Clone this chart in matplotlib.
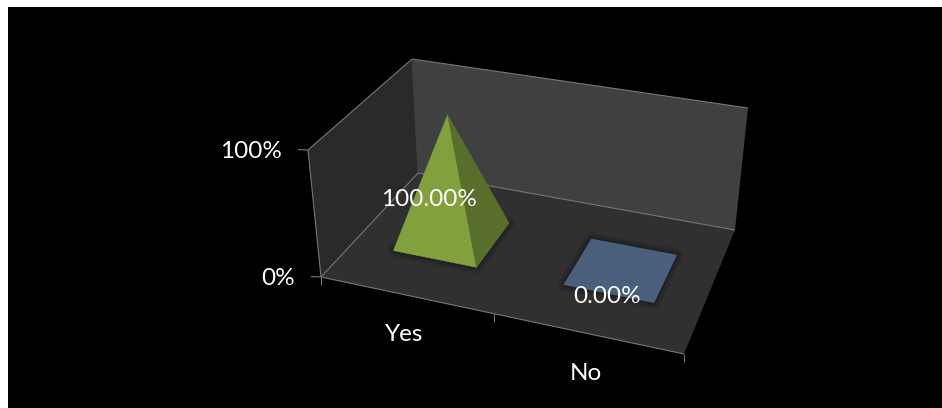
import matplotlib
matplotlib.use("Agg")
import matplotlib.pyplot as plt
import numpy as np
from matplotlib.patches import Polygon

categories = ["Yes", "No"]
values = [1.0, 0.0]
value_labels = ["100.00%", "0.00%"]
value_ticks = [0.0, 1.0]
value_tick_labels = ["0%", "100%"]
colors_front = ["#83A03F", "#4A5F7C"]
colors_side = ["#5A6E2C", "#3A4C64"]

# Box corners in pixels: front/back, bottom
FBL, FBR, BBR, BBL = map(np.array, [(321., 277.), (684., 354.), (735., 230.), (418., 173.)])
UP_FL, UP_FR, UP_BR, UP_BL = map(np.array, [(-13., -127.), (6., -130.), (13., -122.), (-6., -114.)])
BAR_HALF_W, BAR_HALF_D = 0.125, 0.2
FONT_SIZE = 17.5

def solve_floor():
    dx1, dx2, sx = FBR[0]-BBR[0], BBL[0]-BBR[0], FBL[0]-FBR[0]+BBR[0]-BBL[0]
    dy1, dy2, sy = FBR[1]-BBR[1], BBL[1]-BBR[1], FBL[1]-FBR[1]+BBR[1]-BBL[1]
    den = dx1*dy2 - dx2*dy1
    g = (sx*dy2 - dx2*sy)/den
    h = (dx1*sy - sx*dy1)/den
    return np.array([[FBR[0]-FBL[0]+g*FBR[0], BBL[0]-FBL[0]+h*BBL[0], FBL[0]],
                     [FBR[1]-FBL[1]+g*FBR[1], BBL[1]-FBL[1]+h*BBL[1], FBL[1]],
                     [g, h, 1.0]])
H = solve_floor()

def proj(u, v, z=0.0):
    p = H @ np.array([u, v, 1.0])
    base = p[:2]/p[2]
    up = (UP_FL*(1-u)*(1-v) + UP_FR*u*(1-v) + UP_BR*u*v + UP_BL*(1-u)*v)
    return base + z*up

W, HH = 942, 408
plt.rcParams["font.family"] = ["Lato", "DejaVu Sans"]
fig = plt.figure(figsize=(W/100, HH/100), dpi=100, facecolor="white")
ax = fig.add_axes([8/W, 0, (W-8)/W, (HH-7)/HH])
ax.set_xlim(8, W); ax.set_ylim(HH, 7)
ax.set_facecolor("black")
ax.set_xticks([]); ax.set_yticks([])
for s in ax.spines.values():
    s.set_visible(False)

# walls and floor
ax.add_patch(Polygon([proj(0,0,0), proj(0,1,0), proj(0,1,1), proj(0,0,1)], fc="#2A2A2A", ec="none", zorder=1))
ax.add_patch(Polygon([proj(0,1,0), proj(1,1,0), proj(1,1,1), proj(0,1,1)], fc="#404040", ec="none", zorder=1))
ax.add_patch(Polygon([proj(0,0,0), proj(1,0,0), proj(1,1,0), proj(0,1,0)], fc="#303030", ec="none", zorder=2))

LINE = "#777777"
def seg(a, b, lw=0.8, c=LINE, z=3):
    ax.plot([a[0], b[0]], [a[1], b[1]], color=c, lw=lw, solid_capstyle="butt", zorder=z)

seg(proj(0,0,1), proj(0,1,1))
seg(proj(0,1,1), proj(1,1,1))
seg(proj(0,0,0), proj(0,0,1))
seg(proj(0,0,0), proj(1,0,0))
seg(proj(0,0,0), proj(0,1,0))
seg(proj(0,1,0), proj(1,1,0))
seg(proj(0,1,0), proj(0,1,1), lw=0.5, c="#484848")

# ticks and axis labels
n = len(categories)
for t, lab in zip(value_ticks, value_tick_labels):
    p = proj(0, 0, t)
    seg(p, p + np.array([-10, -0.5]))
    ax.text(p[0]-26, p[1]+1, lab, color="white", fontsize=FONT_SIZE, ha="right", va="center", zorder=8)
for i in range(n + 1):
    p = proj(i/n, 0, 0)
    seg(p, p + np.array([0, 8]))
for i, c in enumerate(categories):
    p = proj((i+0.5)/n, 0, 0)
    ax.text(p[0]-1, p[1]+40, c, color="white", fontsize=FONT_SIZE, ha="center", va="center", zorder=8)

# pyramids
for i, val in enumerate(values):
    uc = (i+0.5)/n
    fl = proj(uc-BAR_HALF_W, 0.5-BAR_HALF_D)
    fr = proj(uc+BAR_HALF_W, 0.5-BAR_HALF_D)
    br = proj(uc+BAR_HALF_W, 0.5+BAR_HALF_D)
    bl = proj(uc-BAR_HALF_W, 0.5+BAR_HALF_D)
    for lw, a in [(9, 0.10), (6, 0.16), (3, 0.25)]:
        ax.add_patch(Polygon([fl, fr, br, bl], fc="#111111", ec="#111111", alpha=a, lw=lw, joinstyle="round", zorder=4))
    if val > 0:
        apex = proj(uc, 0.5, val)
        ax.add_patch(Polygon([fl, fr, apex], fc=colors_front[i], ec=colors_front[i], lw=0.4, zorder=5))
        ax.add_patch(Polygon([fr, br, apex], fc=colors_side[i], ec=colors_side[i], lw=0.4, zorder=5))
    else:
        ax.add_patch(Polygon([fl, fr, br, bl], fc=colors_front[i], ec="none", zorder=5))
    c = proj(uc, 0.5, val/2)
    dx, dy = (-21, 24) if val > 0 else (-14, 27)
    ax.text(c[0]+dx, c[1]+dy, value_labels[i], color="white", fontsize=FONT_SIZE, ha="center", va="center", zorder=9)

fig.savefig("out.png", dpi=100, facecolor="white")
